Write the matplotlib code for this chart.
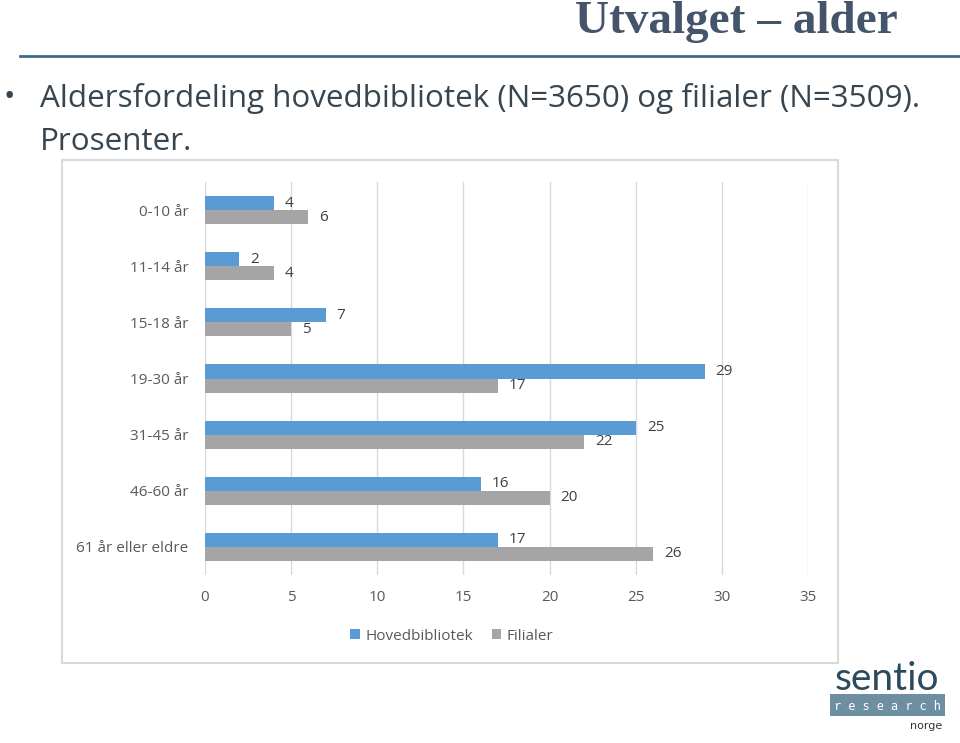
import matplotlib
matplotlib.use("Agg")
import matplotlib.pyplot as plt
from matplotlib.patches import Rectangle
import numpy as np

categories = ["0-10 år", "11-14 år", "15-18 år", "19-30 år", "31-45 år", "46-60 år", "61 år eller eldre"]
hoved = [4, 2, 7, 29, 25, 16, 17]
filialer = [6, 4, 5, 17, 22, 20, 26]
series_names = ["Hovedbibliotek", "Filialer"]
xticks = [0, 5, 10, 15, 20, 25, 30, 35]

W, H = 960, 743
fig = plt.figure(figsize=(9.6, 7.43), dpi=100)

def fx(px): return px / W
def fy(py): return 1 - py / H

# slide title
fig.text(fx(898), fy(22), "Utvalget – alder", ha="right", va="center",
         fontsize=34, fontweight="bold", family="Liberation Serif", color="#44546a")
# rule
fig.add_artist(plt.Line2D([fx(20), fx(960)], [fy(56), fy(56)], color="#3d6b8c", lw=2))
# bullet text
body_color = "#36454f"
fig.text(fx(3), fy(98), "•", ha="left", va="center", fontsize=22, family="Open Sans", color=body_color)
fig.text(fx(40), fy(98), "Aldersfordeling hovedbibliotek (N=3650) og filialer (N=3509).",
         ha="left", va="center", fontsize=22.6, family="Open Sans", color=body_color)
fig.text(fx(40), fy(142), "Prosenter.", ha="left", va="center", fontsize=22.6,
         family="Open Sans", color=body_color)

# chart frame
fig.add_artist(Rectangle((fx(62), fy(663)), fx(838) - fx(62), fy(160) - fy(663),
                         transform=fig.transFigure, fill=False, edgecolor="#d9d9d9", lw=1.5))

ax = fig.add_axes([fx(205), fy(575), fx(808) - fx(205), fy(182) - fy(575)])
n = len(categories)
y = np.arange(n)
bh = 0.25
ax.barh(y - bh / 2, hoved, height=bh, color="#5b9bd5", label=series_names[0], zorder=3)
ax.barh(y + bh / 2, filialer, height=bh, color="#a5a5a5", label=series_names[1], zorder=3)
ax.set_ylim(n - 0.5, -0.5)
ax.set_xlim(0, 35)
ax.set_xticks(xticks)
ax.set_yticks(y)
ax.set_yticklabels(categories)
for s in ax.spines.values():
    s.set_visible(False)
ax.grid(axis="x", color="#d9d9d9", lw=1, zorder=0)
ax.tick_params(axis="both", length=0, colors="#595959", labelsize=11)
ax.tick_params(axis="y", pad=12)
ax.tick_params(axis="x", pad=11)
for lab in ax.get_xticklabels() + ax.get_yticklabels():
    lab.set_family("Open Sans")

for yi, v in zip(y, hoved):
    ax.annotate(str(v), (v, yi - bh / 2), xytext=(8, 0), textcoords="offset points",
                ha="left", va="center", fontsize=11, color="#404040", family="Open Sans")
for yi, v in zip(y, filialer):
    ax.annotate(str(v), (v, yi + bh / 2), xytext=(8, 0), textcoords="offset points",
                ha="left", va="center", fontsize=11, color="#404040", family="Open Sans")

leg = fig.legend(loc="center", bbox_to_anchor=(fx(452), fy(636)), ncol=2, frameon=False,
                 handlelength=0.6, handleheight=0.6, handletextpad=0.4, columnspacing=1.2,
                 prop={"family": "Open Sans", "size": 11})
for t in leg.get_texts():
    t.set_color("#595959")

# logo
fig.text(fx(887), fy(690), "sentio", ha="center", va="baseline", fontsize=28,
         family="Lato", color="#2c4a5e")
fig.add_artist(Rectangle((fx(830), fy(716)), fx(945) - fx(830), fy(694) - fy(716),
                         transform=fig.transFigure, color="#6e8fa1", lw=0))
fig.text(fx(887), fy(706), "r e s e a r c h", ha="center", va="center", fontsize=8.6,
         family="DejaVu Sans Mono", color="white")
fig.text(fx(942), fy(726), "norge", ha="right", va="center", fontsize=8,
         family="DejaVu Sans", color="#333333")

fig.savefig("out.png", dpi=100)
